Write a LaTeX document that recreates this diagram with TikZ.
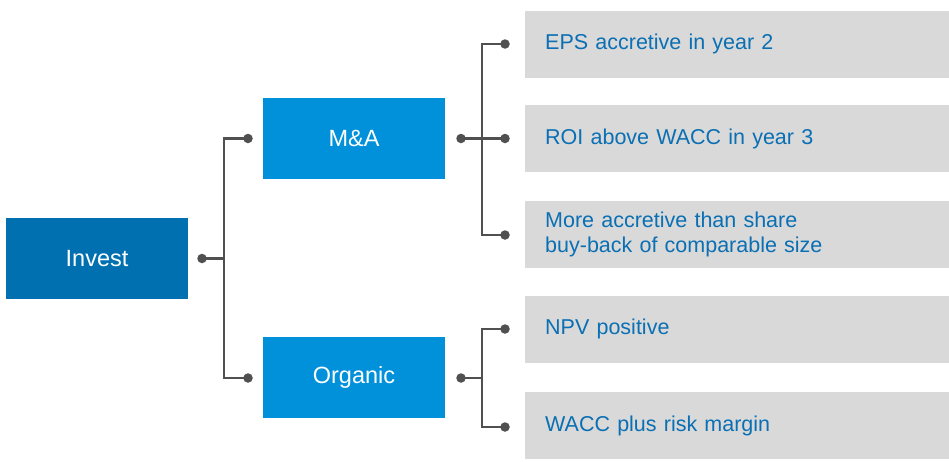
\documentclass[tikz,border=0pt]{standalone}
\usepackage{fontspec}
\setmainfont{Liberation Sans}
\usetikzlibrary{calc}
\definecolor{dblue}{HTML}{0070B0}
\definecolor{mblue}{HTML}{0091DA}
\definecolor{lgray}{HTML}{D9D9D9}
\definecolor{critblue}{HTML}{0A6FB3}
\definecolor{conn}{HTML}{505050}
\begin{document}
\begin{tikzpicture}[x=1pt,y=-1pt,
  box/.style={minimum width=182pt, minimum height=81pt, inner sep=0pt, text=white,
    font=\fontsize{23.5}{27}\selectfont},
  crit/.style={fill=lgray, minimum height=67pt, text width=384pt, inner xsep=20pt,
    inner ysep=0pt, align=left, text=critblue, anchor=west,
    font=\fontsize{21.5}{25}\selectfont},
  link/.style={draw=conn, line width=2.5pt},
  dot/.style={circle, fill=conn, inner sep=0pt, minimum size=9.5pt}]
\useasboundingbox (0,0) rectangle (949,461);

\node[box, fill=dblue] (invest) at (97,258.5) {Invest};
\node[box, fill=mblue] (ma) at (354,138.5) {M\&A};
\node[box, fill=mblue] (org) at (354,377.5) {Organic};

\node[crit] (c1) at (525,44) {EPS accretive in year 2};
\node[crit] (c2) at (525,138.5) {ROI above WACC in year 3};
\node[crit] (c3) at (525,234.5) {More accretive than share\\buy-back of comparable size};
\node[crit] (c4) at (525,329) {NPV positive};
\node[crit] (c5) at (525,425.5) {WACC plus risk margin};

% dots
\node[dot] (d0) at (202,258.5) {};
\node[dot] (dma) at (248,138.5) {};
\node[dot] (dorg) at (248,378) {};
\node[dot] (ma0) at (461,138.5) {};
\node[dot] (m1) at (505,44) {};
\node[dot] (m2) at (505,138.5) {};
\node[dot] (m3) at (505,235) {};
\node[dot] (o0) at (461,378) {};
\node[dot] (o1) at (505,329) {};
\node[dot] (o2) at (505,427) {};

\coordinate (j0) at (224,258.5);
\coordinate (jm) at (482,138.5);
\coordinate (jo) at (482,378);

\draw[link] (d0.center) -- (j0);
\draw[link] (j0) |- (dma.center);
\draw[link] (j0) |- (dorg.center);

\draw[link] (ma0.center) -- (m2.center);
\draw[link] (jm) |- (m1.center);
\draw[link] (jm) |- (m3.center);

\draw[link] (o0.center) -- (jo);
\draw[link] (jo) |- (o1.center);
\draw[link] (jo) |- (o2.center);
\end{tikzpicture}
\end{document}
